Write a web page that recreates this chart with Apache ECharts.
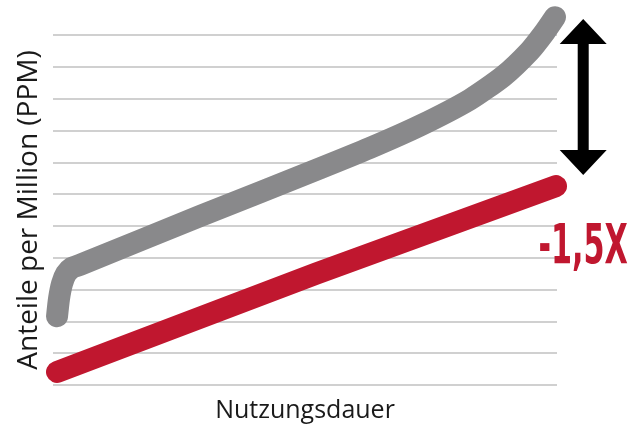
<!DOCTYPE html>
<html>
<head>
<meta charset="utf-8">
<script src="https://cdn.jsdelivr.net/npm/echarts@6/dist/echarts.min.js"></script>
<style>
  html, body { margin: 0; padding: 0; background: #fff; }
  #chart { width: 643px; height: 428px; }
</style>
</head>
<body>
<div id="chart"></div>
<script>
// Werte (x: Nutzungsdauer 0..100, y: PPM 0..11)
const grayX = [0.8, 1.2, 1.8, 2.6, 3.8, 5.4, 29.2, 53.0, 62.9, 72.8, 82.7, 89.3, 94.6, 97.6, 99.6];
const grayY = [2.16, 2.72, 3.19, 3.5, 3.69, 3.78, 5.31, 6.81, 7.45, 8.15, 8.97, 9.7, 10.5, 11.1, 11.56];
const redX = [0.8, 52.2, 99.8];
const redY = [0.41, 3.5, 6.25];

// Pfeil zwischen den Kurven und Beschriftung
const arrowX = 105.2;
const arrowTop = 11.5;
const arrowBottom = 6.6;
const labelY = 4.3;
const labelText = '-1,5X';

const yTicks = [0, 11, 1];

const chart = echarts.init(document.getElementById('chart'));

function pairs(xs, ys) {
    return xs.map((x, i) => [x, ys[i]]);
}

function renderArrow(params, api) {
    const top = api.coord([api.value(0), api.value(1)]);
    const bot = api.coord([api.value(0), api.value(2)]);
    const cx = top[0];
    const headW = 23.5, headH = 25, shaft = 5.5;
    const points = [
        [cx, top[1]],
        [cx + headW, top[1] + headH],
        [cx + shaft, top[1] + headH],
        [cx + shaft, bot[1] - headH],
        [cx + headW, bot[1] - headH],
        [cx, bot[1]],
        [cx - headW, bot[1] - headH],
        [cx - shaft, bot[1] - headH],
        [cx - shaft, top[1] + headH],
        [cx - headW, top[1] + headH]
    ];
    const lab = api.coord([api.value(0), api.value(3)]);
    return {
        type: 'group',
        children: [{
            type: 'polygon',
            shape: {points: points},
            style: {fill: '#000'}
        }, {
            type: 'text',
            x: lab[0],
            y: lab[1],
            scaleX: 0.6,
            style: {
                text: labelText,
                fill: '#c0172f',
                font: 'bold 56px "DejaVu Sans Condensed", sans-serif',
                align: 'center',
                verticalAlign: 'middle'
            }
        }]
    };
}

let option = {
    backgroundColor: '#fff',
    animation: false,
    grid: {
        left: 53,
        right: 86,
        top: 35,
        bottom: 41
    },
    xAxis: {
        type: 'value',
        min: 0,
        max: 100,
        name: 'Nutzungsdauer',
        nameLocation: 'middle',
        nameGap: 13,
        nameTextStyle: {
            fontFamily: 'Open Sans',
            fontSize: 25,
            color: '#1a1a1a'
        },
        axisLine: {show: false},
        axisTick: {show: false},
        axisLabel: {show: false},
        splitLine: {show: false}
    },
    yAxis: {
        type: 'value',
        min: yTicks[0],
        max: yTicks[1],
        interval: yTicks[2],
        name: 'Anteile per Million (PPM)',
        nameLocation: 'middle',
        nameGap: 10,
        nameTextStyle: {
            fontFamily: 'Open Sans',
            fontSize: 28,
            color: '#1a1a1a'
        },
        axisLine: {show: false},
        axisTick: {show: false},
        axisLabel: {show: false},
        splitLine: {
            show: true,
            lineStyle: {color: '#d0d0d0', width: 2}
        }
    },
    series: [{
        name: 'vorher',
        type: 'line',
        data: pairs(grayX, grayY),
        smooth: 0.2,
        clip: false,
        showSymbol: false,
        lineStyle: {color: '#89898b', width: 22, cap: 'round', join: 'round'}
    }, {
        name: 'nachher',
        type: 'line',
        data: pairs(redX, redY),
        clip: false,
        showSymbol: false,
        lineStyle: {color: '#c0172f', width: 22, cap: 'round', join: 'round'}
    }, {
        type: 'custom',
        renderItem: renderArrow,
        clip: false,
        silent: true,
        data: [[arrowX, arrowTop, arrowBottom, labelY]]
    }]
};

chart.setOption(option);
</script>
</body>
</html>
